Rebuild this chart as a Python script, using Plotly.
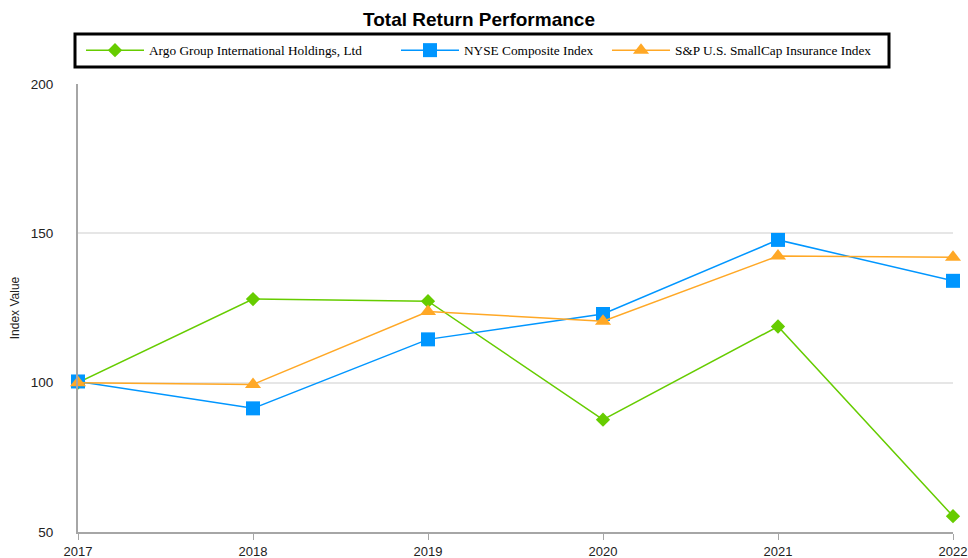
import plotly.graph_objects as go

years = [2017, 2018, 2019, 2020, 2021, 2022]
argo = [100.0, 128.0, 127.3, 87.6, 118.8, 55.3]
nyse = [100.4, 91.4, 114.5, 123.0, 147.8, 134.1]
sp_ins = [100.0, 99.4, 123.8, 120.6, 142.4, 142.0]

names = ["Argo Group International Holdings, Ltd", "NYSE Composite Index",
         "S&P U.S. SmallCap Insurance Index"]
colors = ["#66CC00", "#0096FF", "#FFA826"]
symbols = ["diamond", "square", "triangle-up"]
sizes = [11, 14, 14]
legend_ids = ["legend", "legend2", "legend3"]
legend_text_px = [151, 466, 677]
ITEMW = 58

L, R, T, B = 78, 15, 84, 26
PW, PH = 968 - L - R, 558 - T - B

fig = go.Figure()
for ys, nm, c, s, sz, lid in zip([argo, nyse, sp_ins], names, colors, symbols, sizes, legend_ids):
    fig.add_trace(go.Scatter(
        x=years, y=ys, name=nm, mode="lines+markers",
        line=dict(color=c, width=1.5),
        marker=dict(color=c, symbol=s, size=sz),
        cliponaxis=False, legend=lid,
    ))

legend_font = dict(family="Liberation Serif, Times New Roman, serif", size=13.3, color="#000")
leg_y = 1 + (T - 50.5) / PH
legends = {}
for lid, tx in zip(legend_ids, legend_text_px):
    legends[lid] = dict(x=(tx - 42 - (ITEMW - 30) - L) / PW, xanchor="left", y=leg_y,
                        yanchor="middle", itemwidth=ITEMW,
                        font=legend_font, bgcolor="rgba(0,0,0,0)", borderwidth=0)

fig.update_layout(
    width=968, height=558,
    margin=dict(l=L, r=R, t=T, b=B, autoexpand=False),
    paper_bgcolor="white", plot_bgcolor="white",
    font=dict(family="Liberation Sans, Arial, sans-serif", size=13, color="#222"),
    title=dict(text="<b>Total Return Performance</b>", x=479 / 968, xref="container",
               xanchor="center", y=1 - 19 / 558, yref="container", yanchor="middle",
               font=dict(size=19, color="#000", family="Liberation Sans, Arial, sans-serif")),
    showlegend=True,
    shapes=[dict(type="rect", xref="paper", yref="paper",
                 x0=-3 / PW, x1=(889 - L) / PW,
                 y0=1 + (T - 67) / PH, y1=1 + (T - 34) / PH,
                 line=dict(color="#000", width=3), fillcolor="rgba(0,0,0,0)", layer="above")],
    **legends,
)

fig.update_xaxes(range=[2017, 2022], tickvals=years, ticktext=[str(y) for y in years],
                 showgrid=False, zeroline=False, showline=True, linecolor="#A6A6A6", linewidth=2,
                 ticks="outside", ticklen=6, tickcolor="#A6A6A6", tickwidth=1,
                 tickfont=dict(size=13, color="#222"), automargin=False)
fig.update_yaxes(range=[50, 200], tickvals=[50, 100, 150, 200],
                 showgrid=True, gridcolor="#E6E6E6", gridwidth=1.5, zeroline=False,
                 showline=True, linecolor="#A6A6A6", linewidth=2, ticks="",
                 ticklabelstandoff=20, tickfont=dict(size=13.5, color="#222"), automargin=False,
                 title=dict(text="Index Value", font=dict(size=12, color="#222"), standoff=9))

fig.write_html("out.html", config={"displayModeBar": False},
               post_script="document.body.style.margin='0';document.body.style.overflow='hidden';")
